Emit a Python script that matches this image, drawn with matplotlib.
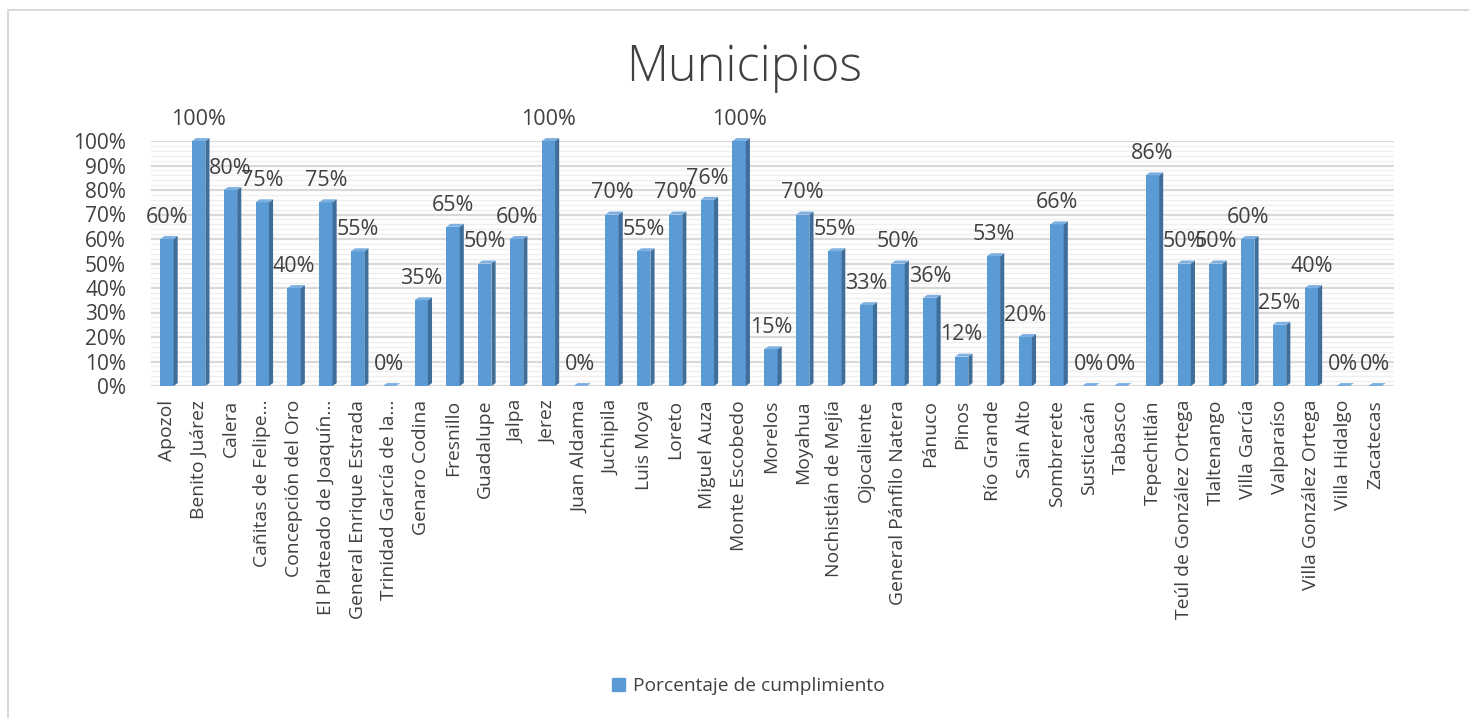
import numpy as np
import matplotlib.pyplot as plt
from matplotlib.patches import Patch, Rectangle

plt.rcParams['font.family'] = ['Open Sans', 'DejaVu Sans']

# datos
municipios = [
    'Apozol', 'Benito Juárez', 'Calera', 'Cañitas de Felipe…', 'Concepción del Oro',
    'El Plateado de Joaquín…', 'General Enrique Estrada', 'Trinidad García de la…',
    'Genaro Codina', 'Fresnillo', 'Guadalupe', 'Jalpa', 'Jerez', 'Juan Aldama',
    'Juchipila', 'Luis Moya', 'Loreto', 'Miguel Auza', 'Monte Escobedo', 'Morelos',
    'Moyahua', 'Nochistlán de Mejía', 'Ojocaliente', 'General Pánfilo Natera',
    'Pánuco', 'Pinos', 'Río Grande', 'Sain Alto', 'Sombrerete', 'Susticacán',
    'Tabasco', 'Tepechitlán', 'Teúl de González Ortega', 'Tlaltenango',
    'Villa García', 'Valparaíso', 'Villa González Ortega', 'Villa Hidalgo', 'Zacatecas',
]
porcentaje = [60, 100, 80, 75, 40, 75, 55, 0, 35, 65, 50, 60, 100, 0, 70, 55, 70, 76,
              100, 15, 70, 55, 33, 50, 36, 12, 53, 20, 66, 0, 0, 86, 50, 50, 60, 25,
              40, 0, 0]
y_ticks = np.arange(0, 101, 10)

azul = '#5B9BD5'
azul_lado = '#3F6E9B'
azul_tope = '#7DB0E0'
gris_txt = '#404040'

fig = plt.figure(figsize=(14.69, 7.18), dpi=100)
ax = fig.add_axes([151 / 1469, 1 - 386 / 718, (1394 - 151) / 1469, 245 / 718])

x = np.arange(len(municipios))
v = np.array(porcentaje) / 100
w = 0.42   # cara frontal
d = 0.13   # profundidad lateral
dz = 0.012

# fondo con lineas finas
ax.set_yticks(np.arange(0, 1.001, 0.02), minor=True)
ax.grid(True, which='minor', axis='y', color='#EFEFEF', lw=1.0)
ax.grid(True, which='major', axis='y', color='#D9D9D9', lw=1.6)
ax.set_axisbelow(True)

# columnas "3D"
ax.bar(x, v, width=w, color=azul, zorder=3, clip_on=False)
for xi, vi in zip(x, v):
    ax.fill([xi + w / 2, xi + w / 2 + d, xi + w / 2 + d, xi + w / 2],
            [0, dz, vi + dz, vi], color=azul_lado, zorder=3, lw=0, clip_on=False)
    ax.fill([xi - w / 2, xi + w / 2, xi + w / 2 + d, xi - w / 2 + d],
            [vi, vi, vi + dz, vi + dz], color=azul_tope, zorder=3, lw=0, clip_on=False)
    ax.annotate(f'{int(round(vi * 100))}%', (xi, vi), xytext=(0, 8),
                textcoords='offset points', ha='center', va='bottom',
                fontsize=15.5, color=gris_txt, zorder=4)

ax.set_xlim(-0.5, 38.6)
ax.set_ylim(0, 1.0)
ax.set_yticks(y_ticks / 100)
ax.set_yticklabels([f'{t}%' for t in y_ticks], fontsize=15, color=gris_txt)
ax.set_xticks(x)
ax.set_xticklabels(municipios, rotation=90, fontsize=13.9, color=gris_txt)
ax.tick_params(axis='both', which='both', length=0)
ax.tick_params(axis='x', pad=10)
ax.tick_params(axis='y', pad=18)
for s in ax.spines.values():
    s.set_visible(False)
ax.axhline(0, color='#D9D9D9', lw=1.2, zorder=2)

fig.text(744 / 1469, 1 - 68 / 718, 'Municipios', ha='center', va='center',
         fontsize=35, color=gris_txt, fontweight='light')

fig.legend(handles=[Patch(color=azul, label='Porcentaje de cumplimiento')],
           loc='center', bbox_to_anchor=(748 / 1469, 1 - 686 / 718), frameon=False,
           fontsize=13.8, handlelength=0.7, handleheight=0.7, handletextpad=0.4,
           labelcolor=gris_txt)

# marco del grafico
fig.patches.append(Rectangle((8 / 1469, -0.1), 1.2, 1 - 10 / 718 + 0.1, fill=False,
                             edgecolor='#D9D9D9', lw=1.5, transform=fig.transFigure))

fig.savefig('out.png', dpi=100)
